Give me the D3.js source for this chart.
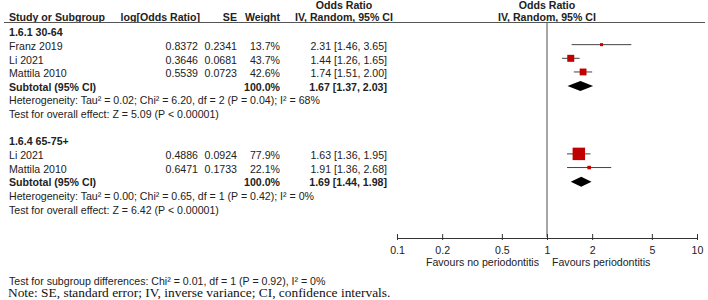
<!DOCTYPE html>
<html>
<head>
<meta charset="utf-8">
<script src="https://cdn.jsdelivr.net/npm/d3@7"></script>
<style>
  body { margin: 0; background: #fff; }
  svg { display: block; font-family: "Liberation Sans", Arial, sans-serif; }
</style>
</head>
<body>
<svg width="708" height="300"></svg>
<script>
// subgroup 1.6.1 30-64
const g1Studies = ["Franz 2019", "Li 2021", "Mattila 2010"];
const g1LogOR = [0.8372, 0.3646, 0.5539];
const g1SE = [0.2341, 0.0681, 0.0723];
const g1Weight = [13.7, 43.7, 42.6];
const g1OR = [2.31, 1.44, 1.74];
const g1Lo = [1.46, 1.26, 1.51];
const g1Hi = [3.65, 1.65, 2.00];
const g1Total = [1.67, 1.37, 2.03];

// subgroup 1.6.4 65-75+
const g2Studies = ["Li 2021", "Mattila 2010"];
const g2LogOR = [0.4886, 0.6471];
const g2SE = [0.0924, 0.1733];
const g2Weight = [77.9, 22.1];
const g2OR = [1.63, 1.91];
const g2Lo = [1.36, 1.36];
const g2Hi = [1.95, 2.68];
const g2Total = [1.69, 1.44, 1.98];

const axisTicks = [0.1, 0.2, 0.5, 1, 2, 5, 10];

const groups = [
  { title: "1.6.1 30-64", studies: g1Studies, logOR: g1LogOR, se: g1SE, weight: g1Weight, or: g1OR, lo: g1Lo, hi: g1Hi, total: g1Total,
    het: "Heterogeneity: Tau\u00b2 = 0.02; Chi\u00b2 = 6.20, df = 2 (P = 0.04); I\u00b2 = 68%",
    test: "Test for overall effect: Z = 5.09 (P < 0.00001)" },
  { title: "1.6.4 65-75+", studies: g2Studies, logOR: g2LogOR, se: g2SE, weight: g2Weight, or: g2OR, lo: g2Lo, hi: g2Hi, total: g2Total,
    het: "Heterogeneity: Tau\u00b2 = 0.00; Chi\u00b2 = 0.65, df = 1 (P = 0.42); I\u00b2 = 0%",
    test: "Test for overall effect: Z = 6.42 (P < 0.00001)" }
];

const svg = d3.select("svg");
const ink = "#222";
const fs = 10.6;

const x = d3.scaleLog().domain([0.1, 10]).range([397, 697]);
const y = d3.scaleLinear().domain([0, 13]).range([32.5, 210]);
const f2 = d3.format(".2f");
const f4 = d3.format(".4f");
const f1 = d3.format(".1f");
const ciText = (m, l, h) => `${f2(m)} [${f2(l)}, ${f2(h)}]`;

function text(t, tx, ty, opts = {}) {
  return svg.append("text")
    .attr("x", tx).attr("y", ty)
    .attr("dy", "0.35em")
    .attr("font-size", opts.size || fs)
    .attr("font-weight", opts.bold ? "bold" : null)
    .attr("text-anchor", opts.anchor || "start")
    .attr("fill", ink)
    .text(t);
}

// headers
text("Odds Ratio", 344, 5, { bold: true, anchor: "middle" });
text("Odds Ratio", 547, 5, { bold: true, anchor: "middle" });
text("Study or Subgroup", 9, 17, { bold: true });
text("log[Odds Ratio]", 200, 17, { bold: true, anchor: "end" });
text("SE", 237, 17, { bold: true, anchor: "end" });
text("Weight", 280, 17, { bold: true, anchor: "end" });
text("IV, Random, 95% CI", 344, 17, { bold: true, anchor: "middle" });
text("IV, Random, 95% CI", 547, 17, { bold: true, anchor: "middle" });

svg.append("line")
  .attr("x1", 4).attr("x2", 705)
  .attr("y1", 22.5).attr("y2", 22.5)
  .attr("stroke", "#555").attr("stroke-width", 1);

// null line
svg.append("line")
  .attr("x1", x(1)).attr("x2", x(1))
  .attr("y1", 23).attr("y2", 237)
  .attr("stroke", "#888").attr("stroke-width", 1.5);

let row = 0;
groups.forEach(g => {
  text(g.title, 9, y(row), { bold: true });
  row++;
  g.studies.forEach((s, i) => {
    const ry = y(row);
    text(s, 9, ry);
    text(f4(g.logOR[i]), 198, ry, { anchor: "end" });
    text(f4(g.se[i]), 237, ry, { anchor: "end" });
    text(f1(g.weight[i]) + "%", 280, ry, { anchor: "end" });
    text(ciText(g.or[i], g.lo[i], g.hi[i]), 387, ry, { anchor: "end" });

    const my = ry - 1.5;
    svg.append("line")
      .attr("x1", x(g.lo[i])).attr("x2", x(g.hi[i]))
      .attr("y1", my).attr("y2", my)
      .attr("stroke", "#444").attr("stroke-width", 1);
    const side = Math.max(3, g.weight[i] * 0.16);
    svg.append("rect")
      .attr("x", x(g.or[i]) - side / 2).attr("y", my - side / 2)
      .attr("width", side).attr("height", side)
      .attr("fill", "#c00000");
    row++;
  });
  const ty = y(row);
  text("Subtotal (95% CI)", 9, ty, { bold: true });
  text("100.0%", 280, ty, { bold: true, anchor: "end" });
  text(ciText(...g.total), 387, ty, { bold: true, anchor: "end" });
  const dy = ty - 1;
  svg.append("path")
    .attr("d", `M${x(g.total[1])},${dy}L${x(g.total[0])},${dy - 5}L${x(g.total[2])},${dy}L${x(g.total[0])},${dy + 5}Z`)
    .attr("fill", "#000");
  row++;
  text(g.het, 9, y(row));
  row++;
  text(g.test, 9, y(row));
  row += 2;
});

// axis
const gx = svg.append("g")
  .attr("transform", "translate(0,238)")
  .call(d3.axisBottom(x).tickValues(axisTicks).tickFormat(d => d).tickSize(0).tickPadding(8));
gx.select(".domain").attr("stroke", "#333");
gx.selectAll(".tick line").attr("y1", -4).attr("y2", 2).attr("stroke", "#333");
gx.selectAll(".tick text")
  .attr("font-size", fs)
  .attr("font-family", "Liberation Sans, Arial, sans-serif")
  .attr("fill", ink);

text("Favours no periodontitis", 539, 262, { anchor: "end" });
text("Favours periodontitis", 552, 262);

text("Test for subgroup differences: Chi\u00b2 = 0.01, df = 1 (P = 0.92), I\u00b2 = 0%", 9, 281);

svg.append("text")
  .attr("x", 8).attr("y", 292.5)
  .attr("dy", "0.35em")
  .attr("font-family", "Liberation Serif, Times New Roman, serif")
  .attr("font-size", 13.4)
  .attr("fill", "#111")
  .text("Note: SE, standard error; IV, inverse variance; CI, confidence intervals.");
</script>
</body>
</html>
